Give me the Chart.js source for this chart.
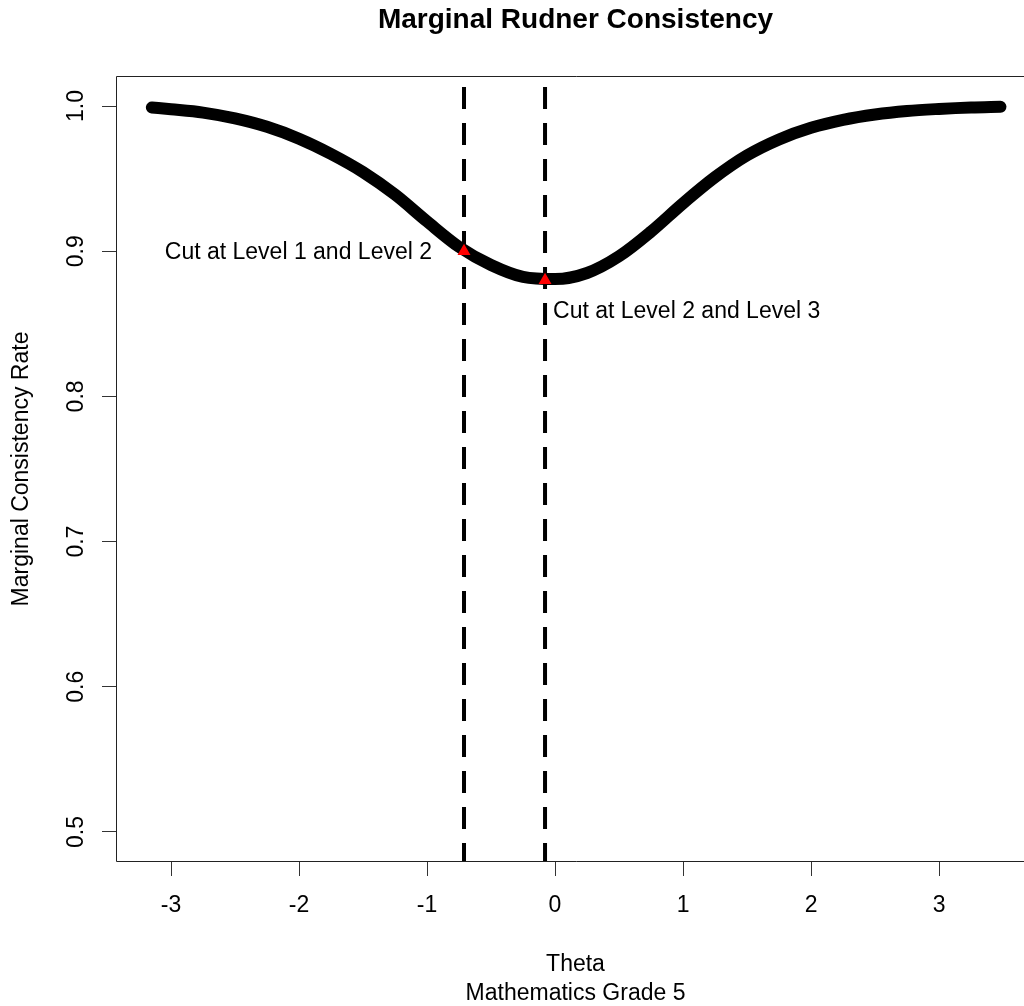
<!DOCTYPE html>
<html>
<head>
<meta charset="utf-8">
<script src="https://cdn.jsdelivr.net/npm/chart.js@4.4.1/dist/chart.umd.min.js"></script>
<style>
  html, body { margin: 0; padding: 0; background: #ffffff; overflow: hidden; width: 1024px; height: 1006px; }
  #wrap { position: relative; width: 1050px; height: 1006px; }
  canvas { display: block; }
</style>
</head>
<body>
<div id="wrap"><canvas id="c" width="1050" height="1006"></canvas></div>
<script>
// ---- data ----
const theta = [-3.15, -3.0, -2.75, -2.5, -2.25, -2.0, -1.75, -1.5, -1.25, -1.0, -0.75, -0.5, -0.25, 0.0,
               0.25, 0.5, 0.75, 1.0, 1.25, 1.5, 1.75, 2.0, 2.25, 2.5, 2.75, 3.0, 3.25, 3.48];
const rate  = [0.9990, 0.9978, 0.9955, 0.9915, 0.9857, 0.9775, 0.9670, 0.9545, 0.9390, 0.9205, 0.9030, 0.8905, 0.8823, 0.8808,
               0.8850, 0.8965, 0.9135, 0.9330, 0.9510, 0.9660, 0.9770, 0.9850, 0.9905, 0.9942, 0.9966, 0.9980, 0.9990, 0.9995];
const cutTheta = [-0.711, -0.078];
const cutRate = [0.900, 0.880];
const cutLabels = ['Cut at Level 1 and Level 2', 'Cut at Level 2 and Level 3'];
const xTicks = [-3, -2, -1, 0, 1, 2, 3];
const yTicks = [0.5, 0.6, 0.7, 0.8, 0.9, 1.0];
const xRange = [-3.422, 3.742];
const yRange = [0.48, 1.02];
const titleText = 'Marginal Rudner Consistency';
const xTitle = ['Theta', 'Mathematics Grade 5'];
const yTitle = 'Marginal Consistency Rate';

const FONT = "'Liberation Sans', Arial, Helvetica, sans-serif";

const curveData = theta.map((t, i) => ({ x: t, y: rate[i] }));
const cutLineSets = cutTheta.map(c => ({
  type: 'line',
  data: [{ x: c, y: yRange[1] }, { x: c, y: yRange[0] }],
  borderColor: '#000000',
  borderWidth: 4,
  borderDash: [22, 14],
  borderDashOffset: 26,
  pointRadius: 0,
  tension: 0,
  order: 1
}));

const framePlugin = {
  id: 'frame',
  afterDraw(chart) {
    const { ctx, chartArea: { left, top, right, bottom } } = chart;
    ctx.save();
    ctx.strokeStyle = '#222222';
    ctx.lineWidth = 1;
    ctx.beginPath();
    ctx.moveTo(right + 2, top - 0.5);
    ctx.lineTo(left - 0.5, top - 0.5);
    ctx.lineTo(left - 0.5, bottom + 0.5);
    ctx.lineTo(right + 2, bottom + 0.5);
    ctx.stroke();
    ctx.restore();
  }
};

const labelPlugin = {
  id: 'cutLabels',
  afterDatasetsDraw(chart) {
    const { ctx, scales: { x, y } } = chart;
    ctx.save();
    ctx.fillStyle = '#000000';
    ctx.font = '23px ' + FONT;
    ctx.textBaseline = 'middle';
    ctx.textAlign = 'right';
    ctx.fillText(cutLabels[0], x.getPixelForValue(cutTheta[0]) - 32, y.getPixelForValue(cutRate[0]) + 1);
    ctx.textAlign = 'left';
    ctx.fillText(cutLabels[1], x.getPixelForValue(cutTheta[1]) + 8, y.getPixelForValue(cutRate[1]) + 31);
    ctx.restore();
  }
};

new Chart(document.getElementById('c'), {
  type: 'line',
  data: {
    datasets: [
      {
        type: 'line',
        showLine: false,
        data: cutTheta.map((t, i) => ({ x: t, y: cutRate[i] })),
        pointStyle: 'triangle',
        pointRadius: 7.5,
        pointBackgroundColor: '#ff0000',
        pointBorderColor: '#ff0000',
        pointBorderWidth: 0,
        order: 0
      },
      ...cutLineSets,
      {
        type: 'line',
        data: curveData,
        borderColor: '#000000',
        borderWidth: 12,
        borderCapStyle: 'round',
        borderJoinStyle: 'round',
        cubicInterpolationMode: 'monotone',
        pointRadius: 0,
        order: 2
      }
    ]
  },
  options: {
    responsive: false,
    animation: false,
    events: [],
    layout: { padding: { left: 0, right: 16, top: 0, bottom: 0 } },
    plugins: {
      legend: { display: false },
      tooltip: { enabled: false },
      title: {
        display: true,
        text: titleText,
        fullSize: false,
        color: '#000000',
        font: { family: FONT, size: 28, weight: 'bold', lineHeight: '34px' },
        padding: { top: 3, bottom: 40 }
      }
    },
    scales: {
      x: {
        type: 'linear',
        min: xRange[0],
        max: xRange[1],
        afterBuildTicks: s => { s.ticks = xTicks.map(v => ({ value: v })); },
        afterFit: s => { s.height = 145; },
        ticks: {
          color: '#000000',
          font: { family: FONT, size: 23 },
          padding: 16,
          maxRotation: 0,
          autoSkip: false,
          callback: v => String(v)
        },
        grid: { drawOnChartArea: false, drawTicks: true, tickLength: 15, color: '#333333', lineWidth: 1 },
        border: { display: false },
        title: {
          display: true,
          text: xTitle,
          color: '#000000',
          font: { family: FONT, size: 23, lineHeight: '29px' },
          padding: { top: 0, bottom: -2 }
        }
      },
      y: {
        type: 'linear',
        min: yRange[0],
        max: yRange[1],
        afterBuildTicks: s => { s.ticks = yTicks.map(v => ({ value: v })); },
        afterFit: s => { s.width = 117; },
        ticks: {
          color: '#000000',
          font: { family: FONT, size: 23 },
          padding: 9,
          minRotation: 90,
          maxRotation: 90,
          crossAlign: 'center',
          autoSkip: false,
          callback: v => Number(v).toFixed(1)
        },
        grid: { drawOnChartArea: false, drawTicks: true, tickLength: 15, color: '#333333', lineWidth: 1 },
        border: { display: false },
        title: {
          display: true,
          text: yTitle,
          color: '#000000',
          font: { family: FONT, size: 23 },
          padding: { top: 8, bottom: 0 }
        }
      }
    }
  },
  plugins: [framePlugin, labelPlugin]
});
</script>
</body>
</html>
